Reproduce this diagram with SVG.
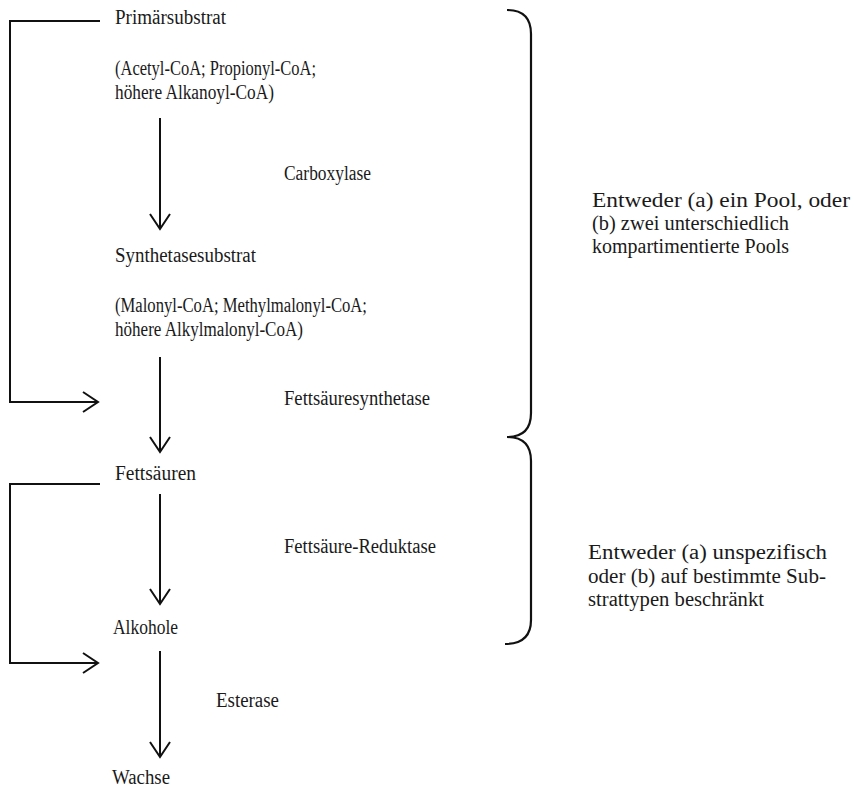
<svg xmlns="http://www.w3.org/2000/svg" width="854" height="791" viewBox="0 0 854 791">
<defs>
<style>
text{font-family:"Liberation Serif","DejaVu Serif",serif;font-size:20.5px;fill:#1a1a1a}
.ln{fill:none;stroke:#111;stroke-width:2}
.br{fill:none;stroke:#111;stroke-width:2.2}
</style>
<marker id="ah" viewBox="0 0 20 24" refX="18" refY="12" markerWidth="20" markerHeight="24" markerUnits="userSpaceOnUse" orient="auto">
<path d="M3,2 L18,12 L3,22" fill="none" stroke="#111" stroke-width="2"/>
</marker>
</defs>
<rect width="854" height="791" fill="#fff"/>
<g id="n-primaer">
<text x="115" y="24" textLength="111" lengthAdjust="spacingAndGlyphs">Primärsubstrat</text>
<text x="115" y="75" textLength="201" lengthAdjust="spacingAndGlyphs">(Acetyl-CoA; Propionyl-CoA;</text>
<text x="115" y="99" textLength="159" lengthAdjust="spacingAndGlyphs">höhere Alkanoyl-CoA)</text>
</g>
<g id="n-synth">
<text x="115" y="262" textLength="141" lengthAdjust="spacingAndGlyphs">Synthetasesubstrat</text>
<text x="115" y="312" textLength="252" lengthAdjust="spacingAndGlyphs">(Malonyl-CoA; Methylmalonyl-CoA;</text>
<text x="115" y="336" textLength="188" lengthAdjust="spacingAndGlyphs">höhere Alkylmalonyl-CoA)</text>
</g>
<g id="n-fett"><text x="115" y="480" textLength="81" lengthAdjust="spacingAndGlyphs">Fettsäuren</text></g>
<g id="n-alk"><text x="113" y="634" textLength="65" lengthAdjust="spacingAndGlyphs">Alkohole</text></g>
<g id="n-wachse"><text x="112" y="784" textLength="58" lengthAdjust="spacingAndGlyphs">Wachse</text></g>
<g id="labels">
<text x="284" y="180" textLength="87" lengthAdjust="spacingAndGlyphs">Carboxylase</text>
<text x="284" y="405" textLength="146" lengthAdjust="spacingAndGlyphs">Fettsäuresynthetase</text>
<text x="284" y="553" textLength="152" lengthAdjust="spacingAndGlyphs">Fettsäure-Reduktase</text>
<text x="216" y="707" textLength="63" lengthAdjust="spacingAndGlyphs">Esterase</text>
</g>
<g id="n-note1">
<text x="592" y="207" textLength="258" lengthAdjust="spacingAndGlyphs">Entweder (a) ein Pool, oder</text>
<text x="592" y="230" textLength="197" lengthAdjust="spacingAndGlyphs">(b) zwei unterschiedlich</text>
<text x="592" y="253" textLength="197" lengthAdjust="spacingAndGlyphs">kompartimentierte Pools</text>
</g>
<g id="n-note2">
<text x="588" y="559" textLength="239" lengthAdjust="spacingAndGlyphs">Entweder (a) unspezifisch</text>
<text x="588" y="583" textLength="238" lengthAdjust="spacingAndGlyphs">oder (b) auf bestimmte Sub-</text>
<text x="588" y="606" textLength="176" lengthAdjust="spacingAndGlyphs">strattypen beschränkt</text>
</g>
<g id="connectors">
<line class="ln" x1="160" y1="118" x2="160" y2="229" marker-end="url(#ah)"/>
<line class="ln" x1="160" y1="357" x2="160" y2="452" marker-end="url(#ah)"/>
<line class="ln" x1="160" y1="494" x2="160" y2="604" marker-end="url(#ah)"/>
<line class="ln" x1="160" y1="651" x2="160" y2="757" marker-end="url(#ah)"/>
<path class="ln" d="M100,21 H10 V402 H98" marker-end="url(#ah)"/>
<path class="ln" d="M100,484 H10 V663 H98" marker-end="url(#ah)"/>
</g>
<g id="braces">
<path class="br" d="M507,10 Q531,10 531,34 V413 Q531,437 507,437 Q531,437 531,461 V620 Q531,644 505,644"/>
</g>
</svg>
